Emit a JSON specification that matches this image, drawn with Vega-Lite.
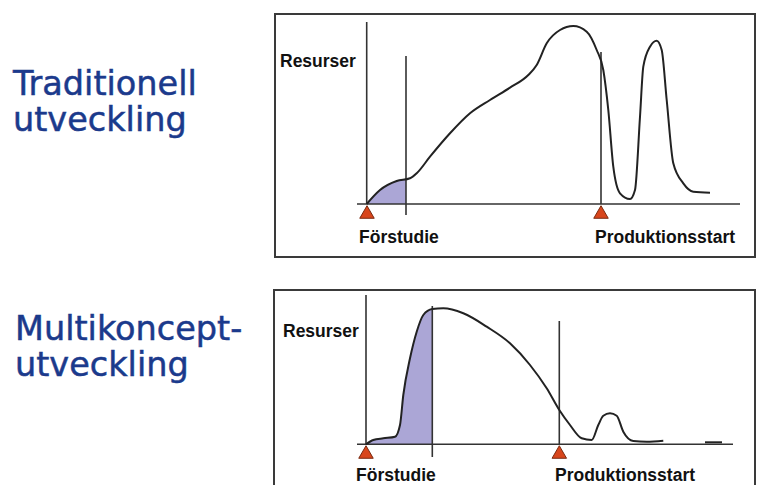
{
  "$schema": "https://vega.github.io/schema/vega-lite/v6.json",
  "width": 757,
  "height": 485,
  "autosize": {"type": "fit", "contains": "padding"},
  "padding": 0,
  "background": "white",
  "config": {"view": {"stroke": null}},
  "datasets": {
    "boxes": [
      {"x": 275, "x2": 755, "y": 14, "y2": 257},
      {"x": 274, "x2": 755, "y": 290, "y2": 500}
    ],
    "fill": [
      {"s": "a", "x": 367, "y": 204, "base": 204},
      {"s": "a", "x": 380, "y": 190, "base": 204},
      {"s": "a", "x": 396.7, "y": 181, "base": 204},
      {"s": "a", "x": 406, "y": 179.2, "base": 204},
      {"s": "b", "x": 366, "y": 444.3, "base": 444.3},
      {"s": "b", "x": 373.3, "y": 440, "base": 444.3},
      {"s": "b", "x": 383.3, "y": 438.3, "base": 444.3},
      {"s": "b", "x": 395, "y": 436.7, "base": 444.3},
      {"s": "b", "x": 400, "y": 425, "base": 444.3},
      {"s": "b", "x": 403.3, "y": 395, "base": 444.3},
      {"s": "b", "x": 410, "y": 358.3, "base": 444.3},
      {"s": "b", "x": 416.7, "y": 331.7, "base": 444.3},
      {"s": "b", "x": 423.3, "y": 315, "base": 444.3},
      {"s": "b", "x": 432.3, "y": 309, "base": 444.3}
    ],
    "curves": [
      {"s": "a", "x": 366.7, "y": 204},
      {"s": "a", "x": 380, "y": 190},
      {"s": "a", "x": 396.7, "y": 181},
      {"s": "a", "x": 410, "y": 178.3},
      {"s": "a", "x": 416.7, "y": 173.3},
      {"s": "a", "x": 430, "y": 156.7},
      {"s": "a", "x": 450, "y": 133.3},
      {"s": "a", "x": 470, "y": 113.3},
      {"s": "a", "x": 490, "y": 100},
      {"s": "a", "x": 510, "y": 87.7},
      {"s": "a", "x": 528.3, "y": 75},
      {"s": "a", "x": 536.7, "y": 65},
      {"s": "a", "x": 546.7, "y": 43.3},
      {"s": "a", "x": 560, "y": 30},
      {"s": "a", "x": 573.3, "y": 26},
      {"s": "a", "x": 586.7, "y": 31.7},
      {"s": "a", "x": 596.7, "y": 50},
      {"s": "a", "x": 603.3, "y": 70},
      {"s": "a", "x": 608.3, "y": 110},
      {"s": "a", "x": 613.3, "y": 166.7},
      {"s": "a", "x": 620, "y": 193.3},
      {"s": "a", "x": 630, "y": 199},
      {"s": "a", "x": 635, "y": 190},
      {"s": "a", "x": 640, "y": 116.7},
      {"s": "a", "x": 643.3, "y": 66.7},
      {"s": "a", "x": 650, "y": 46.7},
      {"s": "a", "x": 656.7, "y": 40.7},
      {"s": "a", "x": 661.7, "y": 50},
      {"s": "a", "x": 666.7, "y": 100},
      {"s": "a", "x": 673.3, "y": 163.3},
      {"s": "a", "x": 683.3, "y": 183.3},
      {"s": "a", "x": 693.3, "y": 191.7},
      {"s": "a", "x": 710, "y": 192.7},
      {"s": "b", "x": 366, "y": 444.3},
      {"s": "b", "x": 373.3, "y": 440},
      {"s": "b", "x": 383.3, "y": 438.3},
      {"s": "b", "x": 395, "y": 436.7},
      {"s": "b", "x": 400, "y": 425},
      {"s": "b", "x": 403.3, "y": 395},
      {"s": "b", "x": 410, "y": 358.3},
      {"s": "b", "x": 416.7, "y": 331.7},
      {"s": "b", "x": 423.3, "y": 315},
      {"s": "b", "x": 432.3, "y": 309},
      {"s": "b", "x": 443.3, "y": 308.3},
      {"s": "b", "x": 463.3, "y": 313.3},
      {"s": "b", "x": 486.7, "y": 326.7},
      {"s": "b", "x": 510, "y": 343.3},
      {"s": "b", "x": 530, "y": 365},
      {"s": "b", "x": 546.7, "y": 388.3},
      {"s": "b", "x": 559.3, "y": 410},
      {"s": "b", "x": 570, "y": 425},
      {"s": "b", "x": 581.7, "y": 438.3},
      {"s": "b", "x": 591.7, "y": 440},
      {"s": "b", "x": 598.3, "y": 425},
      {"s": "b", "x": 603.3, "y": 415.7},
      {"s": "b", "x": 610, "y": 413.3},
      {"s": "b", "x": 616.7, "y": 415.7},
      {"s": "b", "x": 623.3, "y": 431.7},
      {"s": "b", "x": 633.3, "y": 441},
      {"s": "b", "x": 646.7, "y": 441.7},
      {"s": "b", "x": 663.3, "y": 440.7},
      {"s": "c", "x": 705, "y": 442.3},
      {"s": "c", "x": 722, "y": 442.3}
    ],
    "rules": [
      {"x": 366.7, "y": 22, "x2": 366.7, "y2": 204},
      {"x": 357, "y": 204, "x2": 740, "y2": 204},
      {"x": 406, "y": 56, "x2": 406, "y2": 215},
      {"x": 601, "y": 52, "x2": 601, "y2": 204},
      {"x": 366, "y": 295, "x2": 366, "y2": 444.3},
      {"x": 357, "y": 444.3, "x2": 733, "y2": 444.3},
      {"x": 432.3, "y": 306, "x2": 432.3, "y2": 457},
      {"x": 559.3, "y": 321, "x2": 559.3, "y2": 444.3}
    ],
    "tri": [
      {"x": 367, "y": 212},
      {"x": 601, "y": 212},
      {"x": 366, "y": 452},
      {"x": 559.3, "y": 452}
    ],
    "heads": [
      {"t": "Traditionell\nutveckling", "x": 13, "y": 95, "lh": 35},
      {"t": "Multikoncept-\nutveckling", "x": 15, "y": 340, "lh": 32}
    ],
    "labels": [
      {"t": "Resurser", "x": 280, "y": 67},
      {"t": "Förstudie", "x": 359, "y": 243},
      {"t": "Produktionsstart", "x": 595, "y": 243},
      {"t": "Resurser", "x": 283, "y": 337},
      {"t": "Förstudie", "x": 356, "y": 481},
      {"t": "Produktionsstart", "x": 555, "y": 481}
    ]
  },
  "layer": [
    {
      "data": {"name": "boxes"},
      "mark": {"type": "rect", "fill": null, "stroke": "#3a3a3a", "strokeWidth": 2, "clip": true},
      "encoding": {
        "x": {"field": "x", "type": "quantitative", "scale": {"domain": [0, 757], "nice": false, "zero": false}, "axis": null},
        "x2": {"field": "x2"},
        "y": {"field": "y", "type": "quantitative", "scale": {"domain": [0, 485], "nice": false, "zero": false, "reverse": true}, "axis": null},
        "y2": {"field": "y2"}
      }
    },
    {
      "data": {"name": "fill"},
      "mark": {"type": "area", "interpolate": "monotone", "color": "#aba6d6"},
      "encoding": {
        "x": {"field": "x", "type": "quantitative"},
        "y": {"field": "y", "type": "quantitative"},
        "y2": {"field": "base"},
        "detail": {"field": "s"}
      }
    },
    {
      "data": {"name": "rules"},
      "mark": {"type": "rule", "color": "#333333", "strokeWidth": 1.6},
      "encoding": {
        "x": {"field": "x", "type": "quantitative"},
        "y": {"field": "y", "type": "quantitative"},
        "x2": {"field": "x2"},
        "y2": {"field": "y2"}
      }
    },
    {
      "data": {"name": "curves"},
      "mark": {"type": "line", "interpolate": "monotone", "color": "#222222", "strokeWidth": 2},
      "encoding": {
        "x": {"field": "x", "type": "quantitative"},
        "y": {"field": "y", "type": "quantitative"},
        "detail": {"field": "s"}
      }
    },
    {
      "data": {"name": "tri"},
      "mark": {"type": "point", "shape": "triangle-up", "filled": true, "fill": "#d8461c", "stroke": "#7a2a10", "strokeWidth": 1, "size": 210, "opacity": 1},
      "encoding": {
        "x": {"field": "x", "type": "quantitative"},
        "y": {"field": "y", "type": "quantitative"}
      }
    },
    {
      "data": {"name": "heads"},
      "mark": {"type": "text", "align": "left", "baseline": "alphabetic", "font": "DejaVu Sans", "fontSize": 33.5, "color": "#1b3a8c", "lineBreak": "\n", "stroke": "#1b3a8c", "strokeWidth": 0.5},
      "encoding": {
        "x": {"field": "x", "type": "quantitative"},
        "y": {"field": "y", "type": "quantitative"},
        "text": {"field": "t"},
        "lineHeight": {"field": "lh", "type": "quantitative", "scale": null}
      }
    },
    {
      "data": {"name": "labels"},
      "mark": {"type": "text", "align": "left", "baseline": "alphabetic", "font": "Liberation Sans", "fontWeight": "bold", "fontSize": 17.5, "color": "#111111"},
      "encoding": {
        "x": {"field": "x", "type": "quantitative"},
        "y": {"field": "y", "type": "quantitative"},
        "text": {"field": "t"}
      }
    }
  ]
}
